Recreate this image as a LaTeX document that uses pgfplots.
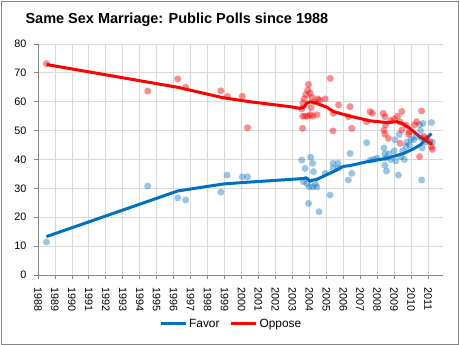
\documentclass[border=0pt]{standalone}
\usepackage{fontspec}
\setmainfont{Liberation Sans}
\usepackage{pgfplots}
\pgfplotsset{compat=1.18}
\definecolor{favc}{HTML}{0070C0}
\definecolor{oppc}{HTML}{FF0000}
\definecolor{gridc}{HTML}{D9D9D9}
\definecolor{axc}{HTML}{868686}
\begin{document}
\begin{tikzpicture}
\useasboundingbox (0,0) rectangle (459pt,345pt);
\draw[axc,line width=0.8pt] (1pt,1pt) rectangle (458pt,344pt);
\node[anchor=west,font=\fontsize{14.5}{16}\selectfont\bfseries] at (22pt,325pt) {Same Sex Marriage: Public Polls since 1988};
\begin{axis}[
  at={(38pt,70pt)}, anchor=south west,
  scale only axis, width=405pt, height=231pt,
  xmin=1988, xmax=2011.88, ymin=0, ymax=80,
  xtick={1988,...,2011}, ytick={0,10,...,80},
  axis x line*=bottom, axis y line*=left,
  axis line style={draw=axc,line width=0.8pt},
  tick style={draw=axc,line width=0.8pt},
  tick align=outside, major tick length=4pt,
  grid=major, major grid style={draw=gridc,line width=0.8pt},
  /pgf/number format/1000 sep={},
  /pgf/number format/assume math mode=true,
  ticklabel style={font=\fontsize{10.8}{12}\selectfont},
  x tick label style={rotate=-90,anchor=west},
  xticklabel shift=5pt,
  yticklabel shift=4pt,
  legend style={at={(0.477,-0.212)},anchor=center,draw=none,fill=none,
    font=\fontsize{11.9}{14}\selectfont,legend columns=2,
    /tikz/every even column/.append style={column sep=8pt}},
  legend image code/.code={\draw[#1,line width=3pt] (0pt,0pt) -- (25pt,0pt);},
]
% Favor scatter
\addplot[only marks,mark=*,mark size=3.5pt,color=favc,mark options={draw opacity=0,fill=favc,fill opacity=0.4},forget plot] table {
x y
1988.5 11.4
1994.47 30.8
1996.24 26.7
1996.71 26.0
1998.78 28.7
1999.15 34.6
2000.05 34.0
2000.35 34.0
2003.55 39.8
2004.08 40.8
2004.2 38.7
2003.75 36.9
2004.24 35.8
2003.65 32.3
2003.85 31.7
2004.0 30.5
2004.2 30.5
2004.35 31.5
2004.45 30.5
2003.95 24.8
2004.57 21.9
2005.22 27.7
2004.93 35.2
2005.4 38.7
2005.7 38.7
2005.4 37.0
2005.7 37.0
2006.4 42.1
2006.5 35.2
2006.3 32.9
2007.38 45.8
2007.6 39.8
2007.8 40.0
2008.0 40.5
2008.4 44.0
2008.45 42.0
2008.5 40.5
2008.45 38.0
2008.55 36.0
2008.7 42.0
2008.8 40.0
2009.0 43.0
2009.05 46.8
2009.1 39.5
2009.25 34.6
2009.3 48.7
2009.4 41.0
2009.5 43.0
2009.6 40.0
2009.7 44.5
2009.75 46.0
2009.9 45.0
2010.0 47.0
2010.15 46.8
2010.3 48.0
2010.5 52.0
2010.55 50.0
2010.6 47.5
2010.65 44.0
2010.62 32.9
2010.7 52.5
2010.85 46.0
2011.2 52.8
2011.25 46.0
};
% Oppose scatter
\addplot[only marks,mark=*,mark size=3.5pt,color=oppc,mark options={draw opacity=0,fill=oppc,fill opacity=0.45},forget plot] table {
x y
1988.5 73.2
1994.47 63.7
1996.24 67.9
1996.71 65.0
1998.78 63.8
1999.17 61.8
2000.05 61.9
2000.35 51.0
2003.55 57.5
2003.62 59.5
2003.7 61.0
2003.8 62.5
2003.9 64.0
2003.95 66.0
2004.05 63.0
2004.15 61.5
2004.3 60.0
2004.5 61.0
2004.6 60.5
2003.6 55.0
2003.75 55.0
2003.9 55.0
2004.05 55.5
2004.2 55.0
2004.45 55.5
2003.6 50.8
2004.1 58.0
2004.93 61.0
2005.23 68.1
2005.42 56.0
2005.72 58.9
2005.39 49.9
2006.4 58.3
2006.3 54.8
2006.5 50.8
2007.38 53.1
2007.58 56.6
2007.72 56.0
2008.36 56.0
2008.46 54.8
2008.5 52.0
2008.4 50.2
2008.45 48.8
2008.66 47.3
2008.8 53.5
2009.0 54.0
2009.2 55.0
2009.45 56.6
2009.35 53.0
2009.45 50.2
2009.35 45.6
2009.7 51.9
2009.9 49.6
2009.85 48.8
2010.2 52.0
2010.33 53.1
2010.62 56.8
2010.5 41.0
2010.75 48.0
2010.9 47.3
2011.1 46.2
2011.2 44.4
2011.25 43.5
};
% Favor trend
\addplot[favc,line width=3pt,line join=round] table {
x y
1988.5 13.3
1996.24 29.1
1998.9 31.5
2000.0 32.0
2002.86 33.1
2003.65 33.4
2003.8 33.7
2003.95 33.0
2004.04 32.4
2004.15 32.8
2004.43 33.1
2005.42 35.8
2006.0 37.6
2006.4 37.9
2007.38 39.2
2008.56 40.4
2009.55 42.1
2010.1 43.6
2010.53 45.0
2011.2 49.0
};
\addlegendentry{Favor}
% Oppose trend
\addplot[oppc,line width=3pt,line join=round] table {
x y
1988.5 72.9
1996.24 65.0
1998.9 61.4
2000.5 60.0
2002.86 58.3
2003.45 57.7
2003.7 58.2
2003.85 59.5
2004.04 60.0
2004.33 59.7
2005.03 58.1
2005.42 56.6
2006.4 55.0
2007.58 53.4
2008.56 52.8
2009.15 53.1
2009.46 52.5
2009.93 50.8
2010.54 47.7
2011.23 45.3
};
\addlegendentry{Oppose}
\end{axis}
\end{tikzpicture}
\end{document}
